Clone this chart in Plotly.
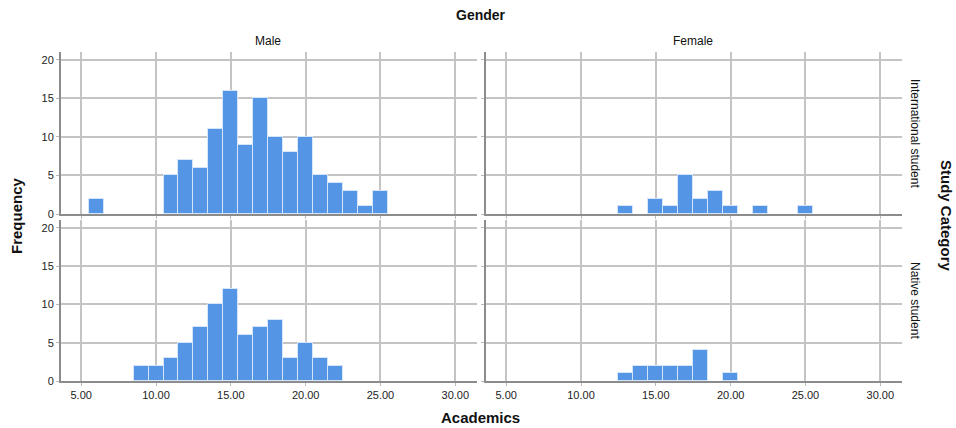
import plotly.graph_objects as go

# ---- data (bin centers, bin width 1) ----
male_intl_x = [6, 11, 12, 13, 14, 15, 16, 17, 18, 19, 20, 21, 22, 23, 24, 25]
male_intl_y = [2, 5, 7, 6, 11, 16, 9, 15, 10, 8, 10, 5, 4, 3, 1, 3]
female_intl_x = [13, 15, 16, 17, 18, 19, 20, 22, 25]
female_intl_y = [1, 2, 1, 5, 2, 3, 1, 1, 1]
male_native_x = [9, 10, 11, 12, 13, 14, 15, 16, 17, 18, 19, 20, 21, 22]
male_native_y = [2, 2, 3, 5, 7, 10, 12, 6, 7, 8, 3, 5, 3, 2]
female_native_x = [13, 14, 15, 16, 17, 18, 20]
female_native_y = [1, 2, 2, 2, 2, 4, 1]

x_ticks = [5, 10, 15, 20, 25, 30]
x_tick_labels = ["5.00", "10.00", "15.00", "20.00", "25.00", "30.00"]
y_ticks = [0, 5, 10, 15, 20]
col_labels = ["Male", "Female"]
row_labels = ["International student", "Native student"]

W, H = 956, 428
BAR = "#5595E5"
FONT = "Liberation Sans, Arial, sans-serif"

fig = go.Figure()
panels = [
    (male_intl_x, male_intl_y, "x", "y"),
    (female_intl_x, female_intl_y, "x2", "y2"),
    (male_native_x, male_native_y, "x3", "y3"),
    (female_native_x, female_native_y, "x4", "y4"),
]
for xs, ys, xa, ya in panels:
    fig.add_trace(go.Bar(x=xs, y=ys, width=1, xaxis=xa, yaxis=ya,
                         marker=dict(color=BAR, line=dict(color="#d6e6fa", width=1)),
                         showlegend=False, hoverinfo="x+y"))

xdom = [[61 / W, 477 / W], [486 / W, 902 / W]]
ydom = [[1 - 214 / H, 1 - 52 / H], [1 - 381 / H, 1 - 220 / H]]

def xaxis(dom, anchor, labels):
    return dict(domain=dom, anchor=anchor, range=[3.65, 31.45],
                tickvals=x_ticks, ticktext=x_tick_labels, showticklabels=labels,
                showgrid=True, gridcolor="#c4c4c4", gridwidth=1.5,
                showline=True, linecolor="#8c8c8c", linewidth=2,
                ticks="outside", ticklen=3, tickcolor="#bbbbbb",
                zeroline=False, automargin=False,
                tickfont=dict(size=11, color="#222", family=FONT))

def yaxis(dom, anchor, labels):
    return dict(domain=dom, anchor=anchor, range=[0, 21],
                tickvals=y_ticks, showticklabels=labels,
                showgrid=True, gridcolor="#c4c4c4", gridwidth=1.5,
                showline=True, linecolor="#8c8c8c", linewidth=2,
                ticks="outside", ticklen=3, tickcolor="#bbbbbb",
                zeroline=False, automargin=False,
                tickfont=dict(size=11, color="#222", family=FONT))

fig.update_layout(
    width=W, height=H, margin=dict(l=0, r=0, t=0, b=0, pad=0), autosize=False,
    paper_bgcolor="white", plot_bgcolor="white", bargap=0,
    font=dict(family=FONT, color="#222"),
    xaxis=xaxis(xdom[0], "y", False),
    yaxis=yaxis(ydom[0], "x", True),
    xaxis2=xaxis(xdom[1], "y2", False),
    yaxis2=yaxis(ydom[0], "x2", False),
    xaxis3=xaxis(xdom[0], "y3", True),
    yaxis3=yaxis(ydom[1], "x3", True),
    xaxis4=xaxis(xdom[1], "y4", True),
    yaxis4=yaxis(ydom[1], "x4", False),
)

ann = []
def A(text, x, y, size, bold=False, angle=0):
    ann.append(dict(text=("<b>%s</b>" % text) if bold else text,
                    x=x / W, y=1 - y / H, xref="paper", yref="paper",
                    showarrow=False, textangle=angle, xanchor="center", yanchor="middle",
                    font=dict(size=size, family=FONT, color="#111")))

A("Gender", 481, 15, 14, bold=True)
A(col_labels[0], 268, 41, 12)
A(col_labels[1], 693, 41, 12)
A("Frequency", 17, 216, 15, bold=True, angle=-90)
A("Academics", 481, 417, 15, bold=True)
A("Study Category", 946, 216, 15, bold=True, angle=90)
A(row_labels[0], 915, 133, 12, angle=90)
A(row_labels[1], 915, 300, 12, angle=90)
fig.update_layout(annotations=ann)

fig.write_html("out.html",
               config={"displayModeBar": False, "responsive": False},
               post_script="document.body.style.margin='0';document.body.style.overflow='hidden';")
